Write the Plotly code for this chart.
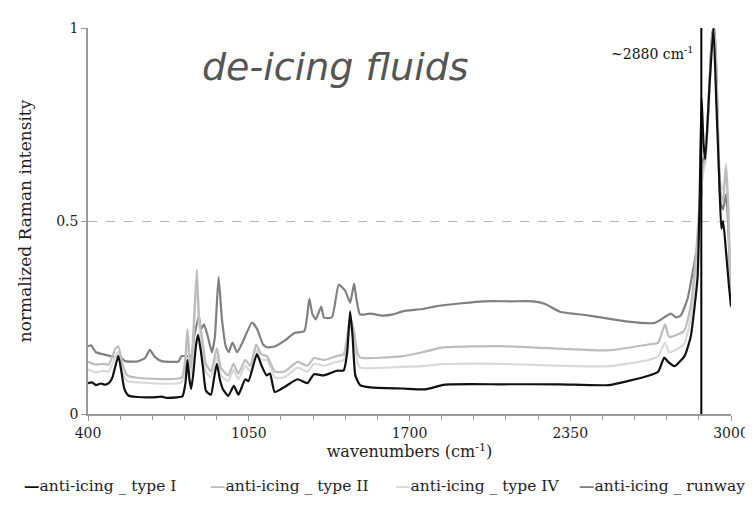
import plotly.graph_objects as go

# ---------------- data ----------------
wn_type1 = [400, 416, 432, 452, 468, 484, 499, 511, 523, 535, 547, 563, 599, 658, 698, 718, 758, 782, 794, 802,
            810, 817, 825, 837, 845, 857, 865, 877, 897, 909, 921, 933, 945, 967, 990, 1008, 1036, 1049, 1083, 1102,
            1122, 1136, 1155, 1195, 1247, 1287, 1314, 1354, 1406, 1434, 1448, 1460, 1470, 1481, 1500, 1541, 1672, 1764, 1843, 2070,
            2308, 2507, 2666, 2706, 2730, 2746, 2772, 2812, 2837, 2853, 2865, 2873, 2881, 2889, 2896, 2913, 2929, 2941, 2953, 2961,
            2968, 2980, 2992, 3000]
int_type1 = [0.080, 0.082, 0.075, 0.079, 0.076, 0.080, 0.095, 0.125, 0.150, 0.110, 0.065, 0.048, 0.044, 0.043, 0.045, 0.042, 0.043, 0.046, 0.080, 0.140,
             0.090, 0.065, 0.100, 0.180, 0.205, 0.160, 0.120, 0.060, 0.050, 0.090, 0.130, 0.090, 0.065, 0.047, 0.073, 0.050, 0.090, 0.085, 0.155, 0.125,
             0.100, 0.105, 0.057, 0.070, 0.090, 0.080, 0.103, 0.100, 0.112, 0.113, 0.160, 0.266, 0.200, 0.100, 0.075, 0.069, 0.066, 0.064, 0.076, 0.077,
             0.077, 0.075, 0.099, 0.110, 0.146, 0.135, 0.124, 0.150, 0.200, 0.280, 0.356, 0.550, 0.820, 0.700, 0.660, 0.850, 1.000, 0.800, 0.600, 0.480,
             0.500, 0.420, 0.330, 0.280]

wn_type2 = [400, 432, 460, 484, 511, 523, 539, 559, 599, 778, 794, 802, 810, 817, 829, 840, 849, 861, 877, 897,
            921, 937, 967, 988, 1008, 1036, 1056, 1080, 1100, 1124, 1155, 1195, 1247, 1287, 1314, 1354, 1406, 1434, 1460, 1474,
            1489, 1501, 1672, 1752, 1831, 2070, 2308, 2507, 2666, 2706, 2733, 2750, 2809, 2837, 2857, 2873, 2885, 2896, 2909, 2925,
            2933, 2945, 2957, 2968, 2980, 2988, 3000]
int_type2 = [0.135, 0.128, 0.130, 0.128, 0.170, 0.175, 0.130, 0.100, 0.094, 0.094, 0.150, 0.220, 0.150, 0.120, 0.250, 0.374, 0.250, 0.200, 0.130, 0.110,
             0.170, 0.120, 0.100, 0.130, 0.105, 0.140, 0.125, 0.180, 0.155, 0.150, 0.110, 0.110, 0.135, 0.125, 0.145, 0.140, 0.150, 0.155, 0.250, 0.220,
             0.160, 0.146, 0.150, 0.160, 0.172, 0.176, 0.169, 0.165, 0.180, 0.185, 0.232, 0.200, 0.215, 0.280, 0.400, 0.550, 0.640, 0.660, 0.800, 0.980,
             0.990, 0.780, 0.580, 0.550, 0.640, 0.550, 0.300]

wn_type4 = [400, 432, 460, 484, 511, 523, 539, 559, 599, 778, 794, 802, 810, 817, 829, 840, 849, 861, 877, 897,
            921, 937, 967, 988, 1008, 1036, 1056, 1080, 1100, 1124, 1155, 1195, 1247, 1287, 1314, 1354, 1406, 1434, 1460, 1474,
            1489, 1501, 1672, 1752, 1831, 2070, 2308, 2507, 2666, 2706, 2733, 2750, 2809, 2837, 2857, 2873, 2885, 2896, 2909, 2925,
            2933, 2945, 2957, 2968, 2980, 2988, 3000]
int_type4 = [0.115, 0.108, 0.112, 0.110, 0.150, 0.160, 0.110, 0.085, 0.082, 0.082, 0.140, 0.210, 0.130, 0.100, 0.230, 0.350, 0.230, 0.180, 0.110, 0.095,
             0.150, 0.100, 0.085, 0.115, 0.090, 0.125, 0.110, 0.165, 0.140, 0.140, 0.095, 0.095, 0.120, 0.110, 0.130, 0.125, 0.135, 0.140, 0.230, 0.200,
             0.135, 0.120, 0.122, 0.124, 0.129, 0.130, 0.125, 0.124, 0.140, 0.150, 0.185, 0.160, 0.180, 0.250, 0.370, 0.520, 0.620, 0.650, 0.780, 0.960,
             0.980, 0.770, 0.600, 0.580, 0.650, 0.560, 0.290]

wn_runway = [400, 412, 432, 460, 491, 511, 523, 535, 551, 599, 631, 650, 670, 698, 766, 778, 817, 829, 848, 857,
             869, 885, 901, 913, 928, 941, 957, 969, 984, 1003, 1028, 1063, 1084, 1108, 1124, 1155, 1195, 1235, 1275, 1295,
             1307, 1321, 1343, 1354, 1386, 1414, 1441, 1460, 1476, 1485, 1500, 1541, 1593, 1633, 1672, 1752, 1804, 1911, 2002, 2110,
             2201, 2249, 2269, 2308, 2428, 2574, 2693, 2757, 2778, 2797, 2825, 2837, 2865, 2878, 2889, 2896, 2909, 2925, 2933, 2945,
             2957, 2968, 2980, 2988, 3000]
int_runway = [0.175, 0.178, 0.160, 0.155, 0.150, 0.148, 0.155, 0.145, 0.137, 0.136, 0.145, 0.166, 0.148, 0.137, 0.136, 0.150, 0.150, 0.200, 0.253, 0.220,
              0.232, 0.200, 0.160, 0.200, 0.355, 0.250, 0.175, 0.160, 0.185, 0.160, 0.190, 0.237, 0.220, 0.180, 0.173, 0.175, 0.190, 0.210, 0.215, 0.298,
              0.260, 0.245, 0.278, 0.250, 0.250, 0.335, 0.318, 0.288, 0.338, 0.300, 0.258, 0.260, 0.255, 0.258, 0.266, 0.272, 0.279, 0.287, 0.292, 0.292,
              0.292, 0.285, 0.278, 0.265, 0.255, 0.240, 0.236, 0.260, 0.250, 0.255, 0.300, 0.339, 0.443, 0.546, 0.660, 0.670, 0.800, 0.990, 1.000, 0.800,
              0.550, 0.530, 0.570, 0.500, 0.276]

series_names = ["anti-icing _ type I", "anti-icing _ type II", "anti-icing _ type IV", "anti-icing _ runway"]
x_ticks = [400, 1050, 1700, 2350, 3000]
y_ticks = [0, 0.5, 1]
y_ticktext = ["0", "0.5", "1"]
peak_wn = 2880
peak_label = "~2880 cm<sup>-1</sup>"
chart_label = "de-icing fluids"

# ---------------- figure ----------------
SERIF = "DejaVu Serif, serif"
TXT = "#1e1e1e"
series_colors = ["#111111", "#bdbdbd", "#d9d9d9", "#808080"]
series_x = [wn_type1, wn_type2, wn_type4, wn_runway]
series_y = [int_type1, int_type2, int_type4, int_runway]

fig = go.Figure()
# draw order: runway, IV, II, I  (black on top)
for i in [3, 2, 1, 0]:
    fig.add_trace(go.Scatter(x=series_x[i], y=series_y[i], mode="lines", name=series_names[i],
                             line=dict(color=series_colors[i], width=2.2, shape="spline", smoothing=0.5),
                             showlegend=False))

# vertical marker line at the C-H stretch peak
fig.add_shape(type="line", xref="x", yref="y", x0=peak_wn, x1=peak_wn, y0=0, y1=1,
              line=dict(color="#000000", width=2))
fig.add_annotation(x=peak_wn, y=0.935, xref="x", yref="y", text=peak_label, showarrow=False,
                   xanchor="right", xshift=-6, font=dict(family=SERIF, size=14, color="#111111"))
fig.add_annotation(x=0.385, y=0.9, xref="paper", yref="paper", text="<i>" + chart_label + "</i>",
                   showarrow=False, xanchor="center", yanchor="middle",
                   font=dict(family="DejaVu Sans", size=38, color="#555555"))

# legend row (short dash + label), laid out like the reference's bottom legend
legend_x = [-0.102, 0.1865, 0.475, 0.760]
for i in range(4):
    fig.add_annotation(x=legend_x[i], y=-0.185, xref="paper", yref="paper", xanchor="left", yanchor="middle",
                       showarrow=False,
                       text="<span style='color:%s'><b>\u2014</b></span>%s" % (series_colors[i], series_names[i]),
                       font=dict(family=SERIF, size=15.5, color=TXT))

fig.update_layout(
    width=753, height=510,
    margin=dict(l=80, r=19, t=17, b=104),
    paper_bgcolor="white", plot_bgcolor="white",
    font=dict(family=SERIF, size=15, color=TXT),
    showlegend=False,
)
fig.update_xaxes(range=[400, 3000], tickvals=x_ticks, ticks="outside", ticklen=5, tickcolor="#999999",
                 minor=dict(dtick=130, tick0=400, ticks="outside", ticklen=4, tickcolor="#999999"),
                 showline=True, linecolor="#999999", linewidth=1.5, showgrid=False, zeroline=False,
                 tickfont=dict(family=SERIF, size=14, color=TXT),
                 title=dict(text="wavenumbers (cm<sup>-1</sup>)", font=dict(family=SERIF, size=16, color=TXT),
                            standoff=6))
fig.update_yaxes(range=[0, 1.0], tickvals=y_ticks, ticktext=y_ticktext, ticks="outside", ticklen=5,
                 tickcolor="#999999", showline=True, linecolor="#999999", linewidth=1.5,
                 showgrid=True, gridcolor="#b5b5b5", griddash="dash", gridwidth=1.2, zeroline=False,
                 tickfont=dict(family=SERIF, size=14, color=TXT),
                 title=dict(text="normalized Raman intensity", font=dict(family=SERIF, size=17, color=TXT),
                            standoff=20))

fig.write_html("out.html")
